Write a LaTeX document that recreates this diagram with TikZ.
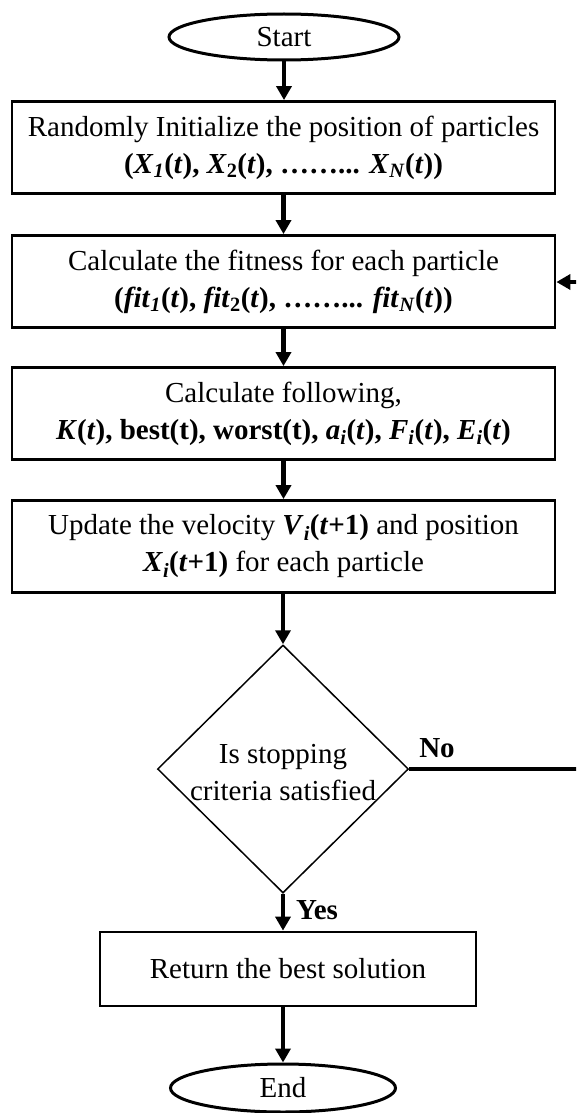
\documentclass[tikz,border=0pt]{standalone}
\usepackage{fontspec}
\setmainfont{Liberation Serif}
\usetikzlibrary{arrows.meta,shapes.geometric}
\begin{document}
\begin{tikzpicture}[x=1pt,y=1pt,
  every node/.style={font=\fontsize{29}{37}\selectfont, text=black},
  procbox/.style={draw, line width=2.8pt, minimum width=543pt, minimum height=92pt, align=center, inner sep=0pt},
  termin/.style={draw, ellipse, line width=3pt, minimum width=230pt, minimum height=46pt, inner sep=0pt},
  arr/.style={line width=4.5pt, -{Triangle[length=14pt,width=15pt]}},
  lbl/.style={font=\fontsize{29}{37}\selectfont\bfseries, inner sep=0pt}
]
\clip (0,0) rectangle (576,-1113);
\node[termin] (start) at (284,-37) {Start};
\node[procbox] (b1) at (283.5,-147.5) {Randomly Initialize the position of particles\\
  \textbf{(\textit{X}\textsubscript{\textit{1}}(\textit{t}), \textit{X}\textsubscript{2}(\textit{t}), ……... \textit{X}\textsubscript{\textit{N}}(\textit{t}))}};
\node[procbox] (b2) at (283.5,-281.5) {Calculate the fitness for each particle\\
  \textbf{(\textit{fit}\textsubscript{\textit{1}}(\textit{t}), \textit{fit}\textsubscript{2}(\textit{t}), ……... \textit{fit}\textsubscript{\textit{N}}(\textit{t}))}};
\node[procbox] (b3) at (283.5,-413.5) {Calculate following,\\
  \textbf{\textit{K}(\textit{t}), best(t), worst(t), \textit{a}\textsubscript{\textit{i}}(\textit{t}), \textit{F}\textsubscript{\textit{i}}(\textit{t}), \textit{E}\textsubscript{\textit{i}}(\textit{t})}};
\node[procbox] (b4) at (283.5,-546.5) {Update the velocity \textbf{\textit{V}\textsubscript{\textit{i}}(\textit{t}+1)} and position\\
  \textbf{\textit{X}\textsubscript{\textit{i}}(\textit{t}+1)} for each particle};
\node[draw, diamond, line width=1.5pt, minimum width=251pt, minimum height=248pt, inner sep=0pt] (dia) at (283,-769) {};
\node[align=center, inner sep=0pt] (diatext) at (283,-773) {Is stopping\\criteria satisfied};
\node[procbox, minimum width=376pt, minimum height=74pt] (ret) at (288,-969) {Return the best solution};
\node[termin, minimum width=225pt, minimum height=48pt] (endn) at (283,-1088) {End};
\node[lbl] (no) at (437,-748) {No};
\node[lbl] (yes) at (317,-910) {Yes};
\coordinate (loopA) at (600,-769);
\coordinate (loopB) at (600,-282);
\draw[arr] (start.south) -- (b1.north -| start.south);
\draw[arr] (b1.south) -- (b2.north);
\draw[arr] (b2.south) -- (b3.north);
\draw[arr] (b3.south) -- (b4.north);
\draw[arr] (b4.south -| dia.north) -- (dia.north);
\draw[arr] (dia.south) -- (dia.south |- ret.north);
\draw[arr] (ret.south -| endn.north) -- (endn.north);
\draw[arr] (dia.east) -- (loopA) -- (loopB) -- (loopB -| b2.east);
\end{tikzpicture}
\end{document}
